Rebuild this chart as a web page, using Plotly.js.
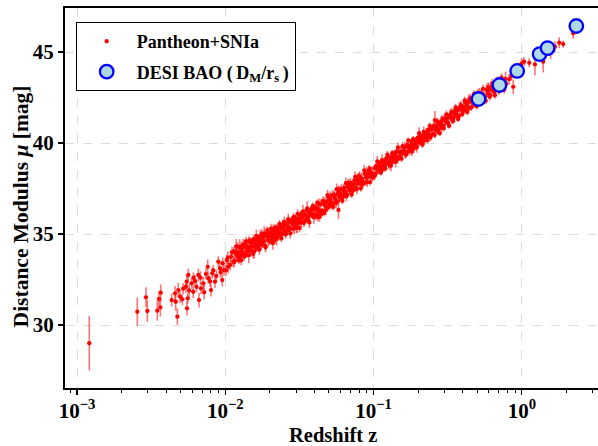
<!DOCTYPE html>
<html><head><meta charset="utf-8">
<script src="https://cdn.plot.ly/plotly-3.0.1.min.js"></script>
<style>html,body{margin:0;padding:0;overflow:hidden;background:#fff}</style>
</head><body><div id="chart"></div>
<script>
// x-axis tick labels
const xTickVals = [0.001, 0.01, 0.1, 1];
const xTickText = ['10<sup>−3</sup>', '10<sup>−2</sup>', '10<sup>−1</sup>', '10<sup>0</sup>'];

// Pantheon+ SNIa, low redshift
const zLow = [0.00121,0.00255,0.00292,0.00298,0.00348,0.00357,0.00367,0.00365,0.00435,0.00458,
0.00463,0.00475,0.00482,0.00495,0.00513,0.00543,0.00549,0.00552,0.00558,0.00563,
0.00593,0.00608,0.00625,0.00658,0.00665,0.00686,0.00711,0.00761,0.00768,0.00801,
0.00817,0.00852,0.00897,0.00921,0.00954,0.0098,0.01022,0.01047,0.01092,0.01132,
0.0052,0.0057,0.0061,0.0064,0.0068,0.0072,0.0074,0.0079,0.0083,0.0087,
0.0093,0.0096,0.0101,0.0104,0.0108,0.0111];
const muLow = [29.00,30.73,31.52,30.77,30.79,31.43,31.78,30.97,31.37,31.74,
31.28,30.46,31.92,31.56,31.41,32.11,32.38,30.92,31.47,32.75,
32.29,31.83,32.43,32.75,31.37,32.01,32.29,33.20,32.57,31.92,
32.84,32.38,33.48,33.11,32.47,33.02,33.57,33.20,33.75,33.48,
32.00,31.90,32.60,32.10,32.60,31.80,32.80,32.40,33.00,32.70,
32.90,33.40,33.00,33.70,33.30,34.00];
const errLow = [1.50,0.79,0.55,0.60,0.55,0.40,0.45,0.50,0.35,0.40,
0.50,0.45,0.40,0.35,0.30,0.35,0.40,0.40,0.30,0.35,
0.30,0.35,0.30,0.35,0.40,0.30,0.35,0.40,0.30,0.35,
0.30,0.35,0.30,0.30,0.35,0.30,0.30,0.35,0.30,0.30,
0.30,0.35,0.30,0.30,0.35,0.40,0.30,0.30,0.30,0.35,
0.30,0.30,0.30,0.35,0.30,0.30];

// 0.011 < z < 0.02
const zA = [0.0114,0.0116,0.0118,0.0119,0.0121,0.0123,0.0124,0.0126,0.0128,0.0129,
0.0131,0.0133,0.0135,0.0137,0.0139,0.0141,0.0143,0.0145,0.0147,0.0149,
0.0152,0.0154,0.0156,0.0158,0.0161,0.0163,0.0166,0.0168,0.0171,0.0173,
0.0176,0.0179,0.0181,0.0184,0.0187,0.0190,0.0193,0.0196,0.0199,
0.0115,0.0117,0.01185,0.0120,0.0122,0.01235,0.0125,0.0127,0.01285,0.0130,
0.0132,0.0134,0.0136,0.0138,0.0140,0.0142,0.0144,0.0146,0.0148,0.0150,
0.0153,0.0155,0.0157,0.0160,0.0162,0.0164,0.0167,0.0170,0.0172,0.0175,
0.0178,0.0180,0.0183,0.0186,0.0189,0.0192,0.0195,0.0198];
const muA = [34.05,33.53,33.96,33.83,34.31,33.74,33.95,34.28,33.56,34.18,
33.96,34.28,33.86,34.39,33.87,34.29,34.17,34.65,34.07,34.30,
34.63,33.91,34.53,34.31,34.64,34.21,34.75,34.22,34.65,34.53,
35.01,34.44,34.66,34.99,34.27,34.90,34.68,35.01,34.59,
33.46,34.00,34.32,33.79,33.97,33.54,34.27,33.80,34.22,33.99,
34.42,33.75,34.28,34.60,34.08,34.26,33.83,34.56,34.09,34.51,
34.30,34.72,34.05,34.58,34.90,34.38,34.56,34.14,34.87,34.40,
34.83,34.60,35.03,34.36,34.89,35.22,34.70,34.88];
const errA = [0.22,0.18,0.30,0.15,0.25,0.20,0.35,0.17,0.28,0.21,
0.16,0.26,0.19,0.24,0.18,0.29,0.15,0.23,0.20,0.33,
0.17,0.27,0.21,0.16,0.25,0.19,0.22,0.18,0.30,0.15,
0.26,0.20,0.31,0.17,0.28,0.21,0.16,0.24,0.19,
0.30,0.22,0.40,0.26,0.34,0.20,0.45,0.28,0.36,0.24,
0.31,0.23,0.41,0.25,0.33,0.21,0.44,0.27,0.35,0.24,
0.30,0.22,0.39,0.26,0.34,0.20,0.43,0.28,0.36,0.25,
0.31,0.22,0.40,0.26,0.33,0.21,0.42,0.28];

// 0.02 < z < 0.045
const zB = [0.0202,0.0205,0.0208,0.0211,0.0214,0.0217,0.0220,0.0224,0.0227,0.0230,
0.0234,0.0237,0.0241,0.0245,0.0248,0.0252,0.0256,0.0260,0.0264,0.0268,
0.0272,0.0277,0.0281,0.0286,0.0290,0.0295,0.0300,0.0305,0.0310,0.0315,
0.0320,0.0325,0.0331,0.0336,0.0342,0.0348,0.0354,0.0360,0.0366,0.0372,
0.0379,0.0386,0.0392,0.0399,0.0406,0.0413,0.0421,0.0428,0.0436,0.0444,
0.0422,0.0580,
0.02035,0.02065,0.02095,0.02125,0.02155,0.02185,0.0222,0.02255,0.02285,0.0232,
0.02355,0.0239,0.0243,0.02465,0.0250,0.0254,0.0258,0.0262,0.0266,0.0270,
0.02745,0.0279,0.02835,0.0288,0.02925,0.02975,0.03025,0.03075,0.03125,0.03175,
0.03225,0.0328,0.03335,0.0339,0.0345,0.0351,0.0357,0.0363,0.0369,0.03755,
0.03825,0.0389,0.03955,0.04025,0.04095,0.0417,0.04245,0.0432,0.0440];
const muB = [35.07,34.65,34.98,35.26,34.84,34.66,35.14,35.03,35.35,34.93,
35.31,35.39,34.97,35.31,35.58,35.16,34.99,35.47,35.35,35.68,
35.26,35.65,35.73,35.31,35.64,35.93,35.51,35.34,35.83,35.71,
36.04,35.62,36.01,36.09,35.67,36.01,36.29,35.87,35.71,36.19,
36.08,36.41,35.99,36.38,36.46,36.05,36.39,36.67,36.26,36.09,
35.93,36.32,
35.29,34.82,34.50,35.18,35.00,35.38,34.76,35.19,34.92,35.55,
35.08,34.76,35.44,35.27,35.65,35.03,35.46,35.19,35.82,35.35,
35.03,35.72,35.55,35.93,35.31,35.75,35.48,36.11,35.65,35.33,
36.01,35.84,36.23,35.61,36.04,35.78,36.41,35.94,35.63,36.31,
36.15,36.53,35.91,36.35,36.08,36.72,36.26,35.94,36.63];
const errB = [0.18,0.24,0.15,0.28,0.20,0.16,0.22,0.30,0.17,0.21,
0.19,0.25,0.14,0.27,0.20,0.17,0.23,0.29,0.16,0.22,
0.18,0.24,0.15,0.28,0.21,0.16,0.22,0.30,0.17,0.20,
0.19,0.25,0.15,0.27,0.20,0.17,0.23,0.28,0.16,0.21,
0.18,0.24,0.14,0.28,0.20,0.16,0.22,0.30,0.17,0.21,
0.25,0.50,
0.28,0.20,0.36,0.24,0.32,0.18,0.40,0.26,0.30,0.22,
0.27,0.21,0.35,0.25,0.31,0.19,0.39,0.26,0.29,0.22,
0.28,0.20,0.37,0.24,0.32,0.18,0.41,0.25,0.30,0.23,
0.27,0.20,0.36,0.24,0.33,0.19,0.40,0.26,0.30,0.22,
0.28,0.21,0.35,0.24,0.32,0.18,0.39,0.26,0.30];

// 0.045 < z < 0.1
const zC = [0.0452,0.0460,0.0468,0.0477,0.0485,0.0494,0.0503,0.0512,0.0521,0.0530,
0.0540,0.0549,0.0559,0.0569,0.0579,0.0590,0.0600,0.0611,0.0622,0.0633,
0.0645,0.0656,0.0668,0.0680,0.0692,0.0705,0.0718,0.0730,0.0744,0.0757,
0.0771,0.0785,0.0799,0.0813,0.0828,0.0843,0.0858,0.0873,0.0889,0.0905,
0.0921,0.0938,0.0955,0.0972,0.0989,
0.0456,0.0464,0.04725,0.0481,0.04895,0.04985,0.05075,0.05165,0.05255,0.0535,
0.05445,0.0554,0.0564,0.0574,0.05845,0.0595,0.06055,0.06165,0.06275,0.0639,
0.06505,0.0662,0.0674,0.0686,0.06985,0.07115,0.0724,0.0737,0.07505,0.0764,
0.0778,0.0792,0.0806,0.08205,0.08355,0.08505,0.08655,0.0881,0.0897,0.0913,
0.09295,0.09465,0.09635,0.09805];
const muC = [36.28,36.78,36.57,36.31,36.80,37.05,36.64,36.83,36.57,36.66,
37.16,36.95,36.69,37.18,37.42,37.02,37.21,36.95,37.05,37.54,
37.33,37.07,37.57,37.81,37.40,37.59,37.34,37.43,37.92,37.71,
37.46,37.95,38.19,37.79,37.98,37.72,37.81,38.31,38.10,37.84,
38.33,38.58,38.17,38.36,38.10,
36.81,36.15,36.69,36.48,37.13,36.47,36.96,36.75,37.14,36.49,
37.03,36.82,37.46,36.80,37.30,37.09,37.48,36.83,37.37,37.16,
37.80,37.15,37.64,37.43,37.82,37.17,37.71,37.50,38.14,37.49,
37.98,37.77,38.17,37.51,38.05,37.84,38.49,37.83,38.32,38.11,
38.51,37.85,38.39,38.18];
const errC = [0.16,0.22,0.19,0.27,0.15,0.20,0.24,0.18,0.21,
0.17,0.23,0.18,0.26,0.15,0.21,0.25,0.18,0.20,
0.16,0.22,0.19,0.28,0.14,0.20,0.24,0.17,0.21,
0.16,0.23,0.19,0.27,0.15,0.20,0.25,0.18,0.22,
0.17,0.22,0.18,0.26,0.15,0.21,0.24,0.18,0.21,
0.26,0.18,0.34,0.22,0.30,0.17,0.38,0.24,
0.25,0.19,0.33,0.22,0.31,0.17,0.37,0.23,
0.26,0.18,0.35,0.21,0.30,0.16,0.38,0.24,
0.27,0.19,0.34,0.22,0.29,0.17,0.36,0.23,
0.26,0.18,0.33,0.22,0.31,0.17,0.37,0.24,
0.25,0.19,0.34,0.22];

// 0.1 < z < 0.25
const zD = [0.101,0.103,0.105,0.107,0.109,0.111,0.113,0.115,0.117,0.119,
0.121,0.123,0.125,0.128,0.130,0.132,0.135,0.137,0.140,0.142,
0.145,0.147,0.150,0.153,0.156,0.158,0.161,0.164,0.167,0.170,
0.173,0.177,0.180,0.183,0.187,0.190,0.194,0.197,0.201,0.205,
0.208,0.212,0.216,0.220,0.224,0.229,0.233,0.237,0.242,0.246,
0.259,
0.102,0.104,0.106,0.108,0.110,0.112,0.114,0.116,0.118,0.120,
0.122,0.124,0.1265,0.129,0.131,0.1335,0.136,0.1385,0.141,0.1435,
0.146,0.1485,0.1515,0.1545,0.157,0.1595,0.1625,0.1655,0.1685,0.1715,
0.175,0.1785,0.1815,0.185,0.1885,0.192,0.1955,0.199,0.203,0.2065,
0.210,0.214,0.218,0.222,0.2265,0.231,0.235,0.2395,0.244];
const muD = [38.62,38.32,38.62,38.51,38.91,38.65,38.49,38.93,38.63,38.92,
38.81,39.19,38.93,38.79,39.23,38.91,39.22,39.10,39.50,39.24,
39.09,39.52,39.22,39.52,39.41,39.79,39.54,39.38,39.83,39.52,
39.81,39.71,40.10,39.84,39.70,40.13,39.83,40.12,40.02,40.41,
40.15,39.99,40.44,40.13,40.43,40.33,40.72,40.46,40.31,40.75,
41.26,
38.20,38.75,38.99,38.49,38.73,38.37,39.06,38.76,39.00,38.59,
39.13,39.36,38.86,39.11,38.75,39.44,39.14,39.38,38.97,39.52,
39.76,39.25,39.50,39.14,39.83,39.52,39.76,39.36,39.90,40.14,
39.64,39.88,39.52,40.22,39.92,40.16,39.75,40.30,40.54,40.03,
40.27,39.92,40.61,40.31,40.56,40.15,40.69,40.94,40.43];
const errD = [0.14,0.20,0.17,0.25,0.15,0.18,0.22,
0.15,0.21,0.16,0.24,0.14,0.19,0.23,
0.14,0.20,0.17,0.26,0.15,0.18,0.21,
0.15,0.20,0.16,0.25,0.14,0.19,0.22,
0.14,0.21,0.17,0.24,0.15,0.18,0.23,
0.15,0.20,0.16,0.25,0.14,0.19,0.22,
0.14,0.20,0.17,0.26,0.15,0.18,0.21,
0.15,0.50,
0.24,0.16,0.30,0.20,0.27,0.15,0.33,0.19,
0.23,0.17,0.29,0.21,0.26,0.15,0.32,0.19,
0.24,0.16,0.31,0.20,0.27,0.16,0.34,0.18,
0.23,0.17,0.30,0.21,0.26,0.15,0.33,0.19,
0.24,0.16,0.29,0.20,0.28,0.15,0.32,0.19,
0.23,0.17,0.30,0.21,0.27,0.16,0.33,0.19,
0.24];

// 0.25 < z < 0.8
const zE = [0.251,0.256,0.261,0.266,0.272,0.277,0.283,0.289,0.295,0.301,
0.307,0.313,0.320,0.326,0.333,0.340,0.347,0.354,0.361,0.368,
0.376,0.384,0.392,0.400,0.408,0.416,0.425,0.433,0.442,0.451,
0.461,0.470,0.480,0.490,0.500,0.510,0.521,0.531,0.542,0.553,
0.565,0.577,0.589,0.601,0.613,0.626,0.639,0.652,0.665,0.679,
0.693,0.707,0.722,0.737,0.752,0.768,0.784,
0.2535,0.2585,0.2635,0.269,0.2745,0.280,0.286,0.292,0.298,0.304,
0.310,0.3165,0.323,0.3295,0.3365,0.3435,0.3505,0.3575,0.3645,0.372,
0.380,0.388,0.396,0.404,0.412,0.4205,0.429,0.4375,0.4465,0.456,
0.4655,0.475,0.485,0.495,0.505,0.5155,0.526,0.5365,0.5475,0.559,
0.571,0.583,0.595,0.607,0.6195,0.6325,0.6455,0.6585,0.672,0.686,
0.700,0.7145,0.7295,0.7445,0.760,0.776];
const muE = [40.50,40.91,40.71,40.91,40.62,41.07,40.98,40.83,40.94,41.34,
41.15,41.35,41.06,41.51,41.42,41.27,41.38,41.78,41.58,41.79,
41.49,41.95,41.85,41.71,41.81,42.21,42.02,42.22,41.93,42.37,
42.27,42.11,42.20,42.60,42.39,42.58,42.28,42.72,42.61,42.45,
42.55,42.94,42.74,42.93,42.62,43.07,42.96,42.80,42.90,43.29,
43.08,43.28,42.97,43.41,43.31,43.15,43.25,
40.93,40.44,40.84,41.19,40.75,40.55,41.16,41.31,40.82,41.22,
41.58,41.13,40.94,41.54,41.70,41.20,41.61,41.96,41.51,41.32,
41.92,42.08,41.58,41.99,42.34,41.89,41.70,42.30,42.45,41.95,
42.34,42.68,42.23,42.02,42.61,42.76,42.25,42.64,42.98,42.53,
42.32,42.92,43.06,42.55,42.95,43.29,42.83,42.63,43.22,43.36,
42.86,43.25,43.59,43.14,42.93,43.53];
const errE = [0.15,0.21,0.18,0.26,0.17,0.23,0.16,0.20,
0.15,0.22,0.18,0.25,0.17,0.24,0.16,0.21,
0.15,0.21,0.19,0.26,0.17,0.23,0.16,0.20,
0.16,0.22,0.18,0.27,0.17,0.23,0.16,0.21,
0.18,0.24,0.20,0.28,0.19,0.25,0.18,0.22,
0.19,0.25,0.21,0.30,0.20,0.26,0.19,0.24,
0.20,0.27,0.22,0.31,0.21,0.28,0.20,0.25,
0.22,
0.24,0.17,0.30,0.20,0.28,0.16,0.34,
0.23,0.18,0.29,0.21,0.27,0.16,0.33,
0.24,0.17,0.31,0.20,0.28,0.17,0.35,
0.25,0.18,0.30,0.21,0.29,0.17,0.34,
0.26,0.19,0.32,0.22,0.30,0.18,0.36,
0.27,0.20,0.33,0.23,0.31,0.19,0.37,
0.28,0.21,0.34,0.24,0.32,0.20,0.38,
0.29,0.22,0.35,0.25,0.33,0.21,0.39];

// z > 0.8
const zHigh = [0.82,0.85,0.875,0.90,0.95,0.997,1.035,1.122,1.225,1.393,1.563,1.671,1.786,1.90,2.22];
const muHigh = [43.50,43.68,43.09,43.82,44.08,44.38,44.47,44.41,44.32,44.47,44.93,45.29,45.51,45.44,46.03];
const errHigh = [0.30,0.25,0.40,0.28,0.30,0.30,0.25,0.25,0.60,0.60,0.30,0.30,0.30,0.20,0.30];

// DESI BAO (D_M / r_s) converted to distance modulus
const desiZ = [0.51, 0.706, 0.93, 1.317, 1.491, 2.33];
const desiMu = [42.42, 43.19, 43.96, 44.89, 45.22, 46.43];
const desiErr = [0.04, 0.03, 0.03, 0.04, 0.06, 0.04];

const snZ = [].concat(zLow, zA, zB, zC, zD, zE, zHigh);
const snMu = [].concat(muLow, muA, muB, muC, muD, muE, muHigh);
const snErr = [].concat(errLow, errA, errB, errC, errD, errE, errHigh);

const FONT = '"Liberation Serif","Times New Roman",Times,serif';

const traces = [
  {
    x: snZ, y: snMu, type: 'scatter', mode: 'markers', name: 'Pantheon+SNIa',
    marker: {color: '#ff0000', size: 4.3},
    error_y: {type: 'data', array: snErr, visible: true, color: 'rgba(255,0,0,0.55)', thickness: 1.6, width: 0},
    legendgroup: 'a'
  },
  {
    x: desiZ, y: desiMu, type: 'scatter', mode: 'markers',
    name: 'DESI BAO (\u2009D<sub>M</sub>/r<sub>s</sub>\u2009)',
    marker: {color: '#add8e6', size: 13.5, line: {color: '#0000ff', width: 2.3}},
    error_y: {type: 'data', array: desiErr, visible: true, color: '#0000ff', thickness: 2, width: 5},
    legendgroup: 'b'
  }
];

const layout = {
  width: 602, height: 446,
  margin: {l: 65, r: 2, t: 8, b: 58},
  paper_bgcolor: '#ffffff', plot_bgcolor: '#ffffff',
  font: {family: FONT, size: 20, color: '#000000', weight: 'bold'},
  showlegend: true,
  legend: {
    x: 0.02, y: 0.963, xanchor: 'left', yanchor: 'top',
    bgcolor: '#ffffff', bordercolor: '#000000', borderwidth: 1,
    font: {family: FONT, size: 18, color: '#000000', weight: 'bold'},
    itemwidth: 50, tracegroupgap: 4, traceorder: 'grouped'
  },
  xaxis: {
    type: 'log', range: [-3.081, 0.527],
    tickmode: 'array', tickvals: xTickVals, ticktext: xTickText,
    showline: true, linewidth: 2, linecolor: '#000000', mirror: true,
    ticks: 'outside', ticklen: 5, tickwidth: 1.2, tickcolor: '#000000',
    ticklabelstandoff: -2,
    showgrid: true, gridcolor: '#dcdcdc', griddash: 'dash', gridwidth: 1, zeroline: false,
    tickfont: {family: FONT, size: 21, weight: 'bold'},
    minor: {ticks: 'outside', ticklen: 3, tickwidth: 1, tickcolor: '#000000', dtick: 'D1', showgrid: false},
    automargin: false
  },
  yaxis: {
    range: [26.54, 47.42], dtick: 5, tick0: 30,
    showline: true, linewidth: 2, linecolor: '#000000', mirror: true,
    ticks: 'outside', ticklen: 5, tickwidth: 1.2, tickcolor: '#000000',
    showgrid: true, gridcolor: '#dcdcdc', griddash: 'dash', gridwidth: 1, zeroline: false,
    tickfont: {family: FONT, size: 21, weight: 'bold'},
    automargin: false
  },
  annotations: [
    {text: 'Redshift z', xref: 'paper', yref: 'paper', x: 0.50, y: -0.1225,
     xanchor: 'center', yanchor: 'middle', showarrow: false,
     font: {family: FONT, size: 20.5, weight: 'bold', color: '#000000'}},
    {text: 'Distance Modulus <i>μ</i> [mag]', xref: 'paper', yref: 'paper', x: -0.0815, y: 0.479,
     xanchor: 'center', yanchor: 'middle', showarrow: false, textangle: -90,
     font: {family: FONT, size: 21.5, weight: 'bold', color: '#000000'}}
  ]
};

Plotly.newPlot('chart', traces, layout, {displayModeBar: false, staticPlot: true});
</script>
</body></html>
